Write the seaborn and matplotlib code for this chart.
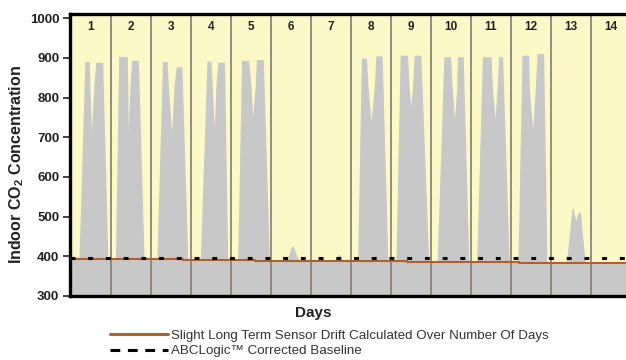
import numpy as np
import pandas as pd
import matplotlib
matplotlib.use("Agg")
import matplotlib.pyplot as plt
from matplotlib.lines import Line2D
import seaborn as sns

# one column per day, hours of the day for the shape of the CO2 trace
days = list(range(1, 15))
left_base_h   = [5.0, 2.9, 3.7, 5.7, 4.2, 8.9, 14.5, 4.1, 3.0, 3.7, 3.4, 4.2, 9.1, 4.0]
left_top_on   = [8.6, 4.9, 7.1, 9.8, 6.5, 12.6, 16.5, 6.3, 5.6, 7.8, 6.9, 6.6, 12.6, 8.0]
left_top_off  = [11.3, 10.0, 9.9, 12.2, 10.8, 13.0, 17.0, 9.4, 10.0, 11.8, 12.1, 10.6, 13.3, 10.0]
left_notch_h  = [11.7, 10.4, 10.7, 13.0, 12.3, 13.1, 17.1, 10.4, 11.0, 12.8, 12.9, 11.0, 14.0, 11.0]
dip_h         = [12.6, 10.6, 12.6, 14.2, 13.2, 13.2, 17.2, 12.1, 12.0, 14.2, 14.5, 13.0, 14.9, 12.0]
right_notch_h = [13.9, 11.6, 14.0, 15.1, 14.6, 13.25, 17.25, 14.0, 13.0, 15.5, 15.7, 14.6, 15.9, 13.0]
right_top_on  = [15.1, 12.6, 15.3, 16.3, 15.5, 13.3, 17.3, 15.0, 14.0, 15.9, 16.6, 15.6, 16.8, 14.0]
right_top_off = [19.3, 16.7, 18.8, 20.3, 19.6, 13.5, 17.5, 18.8, 18.0, 19.4, 19.0, 19.6, 17.6, 18.0]
right_base_h  = [22.5, 20.2, 22.4, 22.3, 23.3, 17.9, 19.5, 22.3, 22.8, 22.8, 23.0, 21.6, 20.6, 22.0]
left_peak   = [891, 904, 891, 892, 894, 426, 405, 900, 907, 903, 903, 907, 521, 380]
notch_level = [823, 823, 823, 823, 823, 425, 404, 823, 823, 823, 823, 823, 505, 380]
dip_level   = [714, 717, 714, 722, 752, 424, 404, 742, 780, 747, 747, 722, 490, 380]
right_peak  = [889, 894, 878, 889, 896, 424, 404, 905, 907, 903, 903, 911, 511, 380]
night_level = 380

# stepped sensor drift and corrected baseline
drift_days  = [0, 2.8, 4.6, 7.0, 8.4, 11.2, 14.0]
drift_level = [392, 390.5, 388.5, 387, 385, 383, 383]
baseline_days  = [0, 14]
baseline_level = [397, 397]

yticks = [300, 400, 500, 600, 700, 800, 900, 1000]

# build the trace
t, co2 = [], []
for i, d in enumerate(days):
    hs = [0, left_base_h[i], left_top_on[i], left_top_off[i], left_notch_h[i], dip_h[i],
          right_notch_h[i], right_top_on[i], right_top_off[i], right_base_h[i], 24]
    vs = [night_level, night_level, left_peak[i], left_peak[i], notch_level[i], dip_level[i],
          notch_level[i], right_peak[i], right_peak[i], night_level, night_level]
    t += [(d - 1) + h / 24 for h in hs]
    co2 += vs
trace = pd.DataFrame({"day": t, "co2": co2})

sns.set_style("white")
plt.rcParams["font.family"] = ["Liberation Sans", "DejaVu Sans"]
plt.rcParams["mathtext.fontset"] = "custom"
plt.rcParams["mathtext.bf"] = "Liberation Sans:bold"
plt.rcParams["mathtext.rm"] = "Liberation Sans"

yellow = "#fdf8c8"
grey = "#c8c8c8"
brown = "#b0602c"

fig = plt.figure(figsize=(6.26, 3.6), dpi=100)
ax = fig.add_axes([0.1126, 0.1778, 0.8955, 0.7847])
ax.set_facecolor(yellow)

ax.fill_between(trace["day"], 300, trace["co2"], color=grey, lw=0, zorder=1)
ax.fill_between(drift_days, 300, drift_level, step="post", color=grey, lw=0, zorder=1)

for d in days[:-1]:
    ax.axvline(d, color="#857d72", lw=1.2, zorder=2)

sns.lineplot(x=drift_days, y=drift_level, drawstyle="steps-post", color=brown,
             lw=1.5, ax=ax, zorder=3)
sns.lineplot(x=baseline_days, y=baseline_level, color="black", lw=2.2,
             linestyle=(0, (1.6, 4.2)), ax=ax, zorder=4)

for d in days:
    ax.text(d - 0.5, 977, str(d), ha="center", va="center", fontsize=8.5,
            fontweight="bold", color="#222222")

ax.set_xlim(0, 14)
ax.set_ylim(300, 1012)
ax.set_xticks([])
ax.set_yticks(yticks)
ax.tick_params(axis="y", direction="out", length=5, width=1.2, pad=3,
               labelsize=9.5, colors="#222222", left=True)
for lab in ax.get_yticklabels():
    lab.set_fontweight("bold")
for s in ["left", "top", "bottom"]:
    ax.spines[s].set_linewidth(2.4)
    ax.spines[s].set_color("black")
ax.spines["right"].set_visible(False)

ax.set_xlabel("")
ax.set_ylabel(r"Indoor CO$_\mathbf{2}$ Concentration", fontsize=11.5,
              fontweight="bold", color="#222222")
ax.yaxis.set_label_coords(-0.079, 0.465)

fig.text(0.5, 0.131, "Days", ha="center", va="center", fontsize=11,
         fontweight="bold", color="#222222")

handles = [Line2D([], [], color=brown, lw=2.2),
           Line2D([], [], color="black", lw=2.2, linestyle=(0, (3.2, 2.5)))]
labels = ["Slight Long Term Sensor Drift Calculated Over Number Of Days",
          "ABCLogic\u2122 Corrected Baseline"]
fig.legend(handles, labels, loc="upper left", bbox_to_anchor=(0.176, 0.084),
           frameon=False, fontsize=9.6, handlelength=4.3, handletextpad=0.25,
           borderpad=0, borderaxespad=0, labelspacing=0.22, labelcolor="#333333")

fig.savefig("out.png", dpi=100)
